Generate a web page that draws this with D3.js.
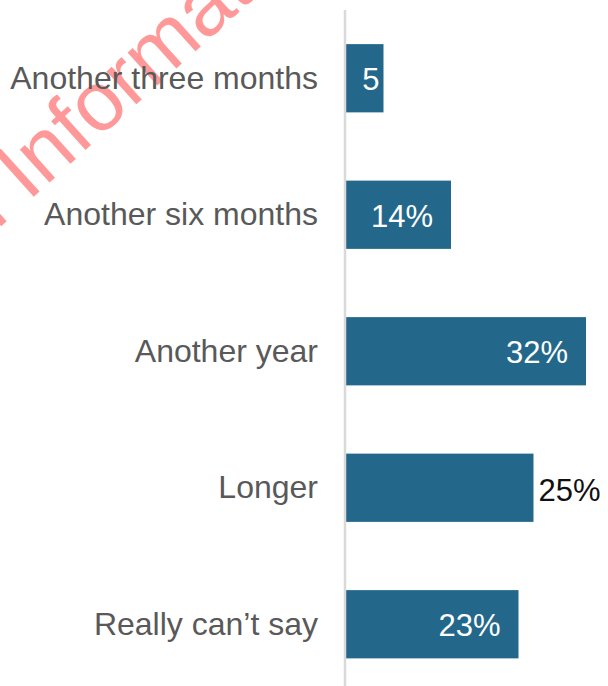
<!DOCTYPE html>
<html>
<head>
<meta charset="utf-8">
<script src="https://cdn.jsdelivr.net/npm/d3@7"></script>
<style>
  html, body { margin: 0; padding: 0; background: #fff; }
  svg { display: block; }
</style>
</head>
<body>
<svg id="chart" width="608" height="686"></svg>
<script>
// How much longer people expect the situation to last
const categories = ["Another three months", "Another six months", "Another year", "Longer", "Really can\u2019t say"];
const values = [5, 14, 32, 25, 23];
const valueLabels = ["5", "14%", "32%", "25%", "23%"];
// Labels drawn inside the bar (white) or just past its end (dark)
const labelInside = [true, true, true, false, true];
const watermarkWords = ["Confidential", "Information"];

const W = 608, H = 686;
const svg = d3.select("#chart");

// Watermark across the top-left corner
const wm = svg.append("g")
  .attr("transform", "translate(28,202) rotate(-42)")
  .attr("font-family", "'Liberation Sans', Arial, sans-serif")
  .attr("font-size", 84)
  .attr("fill", "#ff0000")
  .attr("fill-opacity", 0.4);
wm.append("text").attr("x", -23).attr("text-anchor", "end").text(watermarkWords[0]);
wm.append("text").attr("x", 0).attr("text-anchor", "start").text(watermarkWords[1]);

const x0 = 346;
const x = d3.scaleLinear().domain([0, 32]).range([x0, 586]);
const y = d3.scaleBand()
  .domain(categories)
  .range([10, 692.5])
  .paddingInner(0.5)
  .paddingOuter(0.25);

const font = "'Liberation Sans', Arial, Helvetica, sans-serif";

// Bars
svg.append("g")
  .selectAll("rect")
  .data(values)
  .join("rect")
  .attr("x", x(0))
  .attr("y", (d, i) => y(categories[i]))
  .attr("width", d => x(d) - x(0))
  .attr("height", y.bandwidth())
  .attr("fill", "#23688b");

// Category axis (line only, labels on the left)
const axis = svg.append("g")
  .attr("transform", `translate(${x0 - 1},0)`)
  .call(d3.axisLeft(y).tickSize(0).tickPadding(27));
axis.select(".domain")
  .attr("d", `M0,10V${H}`)
  .attr("stroke", "#d9d9d9")
  .attr("stroke-width", 2.5);
axis.selectAll(".tick text")
  .attr("font-family", font)
  .attr("font-size", 32)
  .attr("fill", "#595959")
  .attr("dy", "0.33em");

// Value labels
svg.append("g")
  .selectAll("text")
  .data(values)
  .join("text")
  .attr("font-family", font)
  .attr("font-size", 31)
  .attr("x", (d, i) => labelInside[i] ? x(d) - (d < 8 ? 4 : 18) : x(d) + 5)
  .attr("y", (d, i) => y(categories[i]) + y.bandwidth() / 2)
  .attr("dy", (d, i) => labelInside[i] ? "0.39em" : "0.44em")
  .attr("text-anchor", (d, i) => labelInside[i] ? "end" : "start")
  .attr("fill", (d, i) => labelInside[i] ? "#ffffff" : "#111111")
  .text((d, i) => valueLabels[i]);
</script>
</body>
</html>
